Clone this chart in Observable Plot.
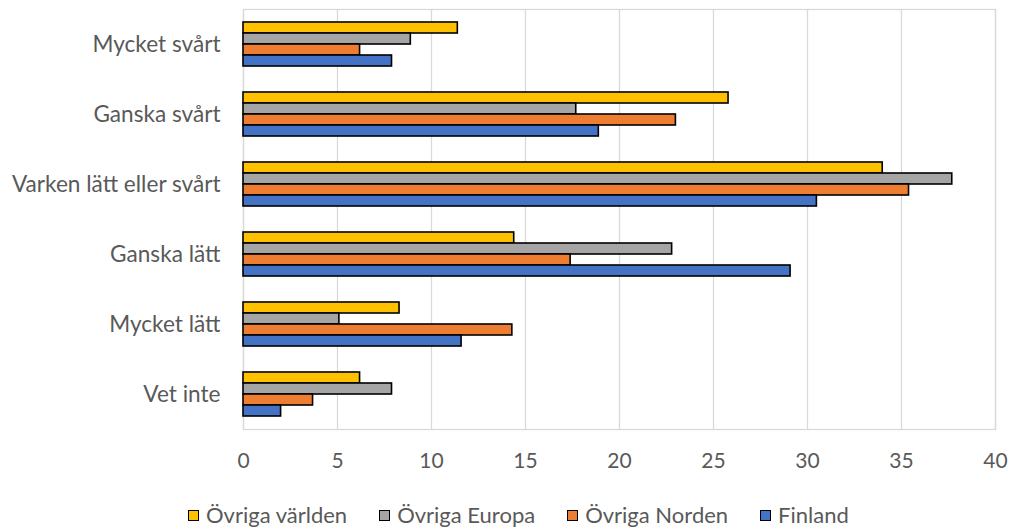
<!DOCTYPE html>
<html>
<head>
<meta charset="utf-8">
<script src="https://cdn.jsdelivr.net/npm/d3@7"></script>
<script src="https://cdn.jsdelivr.net/npm/@observablehq/plot@0.6"></script>
<style>
  body { margin: 0; background: #fff; font-family: Lato, "Open Sans", sans-serif; }
  #legend { display: flex; align-items: center; margin-top: 23px; padding-left: 188px; height: 24px; line-height: 24px; font-size: 22px; color: #595959; white-space: nowrap; }
  .item { display: flex; align-items: center; margin-right: 32px; }
  .sw { width: 9px; height: 9px; border: 1.5px solid #000; margin-right: 7px; flex: none; }
</style>
</head>
<body>
<div id="chart"></div>
<div id="legend"></div>
<script>
const categories = ["Mycket svårt", "Ganska svårt", "Varken lätt eller svårt", "Ganska lätt", "Mycket lätt", "Vet inte"];
const series = ["Övriga världen", "Övriga Europa", "Övriga Norden", "Finland"];
const colors = ["#FFC000", "#A5A5A5", "#ED7D31", "#4472C4"];
const ovrigaVarlden = [11.4, 25.8, 34.0, 14.4, 8.3, 6.2];
const ovrigaEuropa  = [8.9, 17.7, 37.7, 22.8, 5.1, 7.9];
const ovrigaNorden  = [6.2, 23.0, 35.4, 17.4, 14.3, 3.7];
const finland       = [7.9, 18.9, 30.5, 29.1, 11.6, 2.0];
const xTicks = [0, 5, 10, 15, 20, 25, 30, 35, 40];

const seriesValues = [ovrigaVarlden, ovrigaEuropa, ovrigaNorden, finland];
const data = categories.flatMap((c, i) => series.map((s, j) => ({category: c, series: s, value: seriesValues[j][i]})));

const chart = Plot.plot({
  width: 1009,
  height: 480,
  marginLeft: 243,
  marginRight: 14,
  marginTop: 7,
  marginBottom: 50,
  style: {fontFamily: "Lato, 'Open Sans', sans-serif", color: "#595959", background: "#fff"},
  x: {domain: [0, 40], label: null},
  y: {domain: series, paddingInner: 0, paddingOuter: 0.9375, axis: null},
  fy: {domain: categories, padding: 0, label: null},
  color: {domain: series, range: colors},
  marks: [
    Plot.gridX(xTicks, {stroke: "#d9d9d9", strokeOpacity: 1, strokeWidth: 1.3}),
    Plot.frame({facet: "super", stroke: "#d9d9d9", strokeWidth: 1.3}),
    Plot.barX(data, {x: "value", y: "series", fy: "category", fill: "series", stroke: "#000", strokeWidth: 1.6}),
    Plot.axisX(xTicks, {tickSize: 0, tickPadding: 24, label: null, fill: "#595959", fontSize: 21}),
    Plot.axisFy({anchor: "left", tickSize: 0, tickPadding: 23, label: null, fill: "#595959", fontSize: 22.6})
  ]
});
document.getElementById("chart").appendChild(chart);

const legend = document.getElementById("legend");
series.forEach((s, j) => {
  const item = document.createElement("div");
  item.className = "item";
  const sw = document.createElement("span");
  sw.className = "sw";
  sw.style.background = colors[j];
  const t = document.createElement("span");
  t.textContent = s;
  item.appendChild(sw);
  item.appendChild(t);
  legend.appendChild(item);
});
</script>
</body>
</html>
